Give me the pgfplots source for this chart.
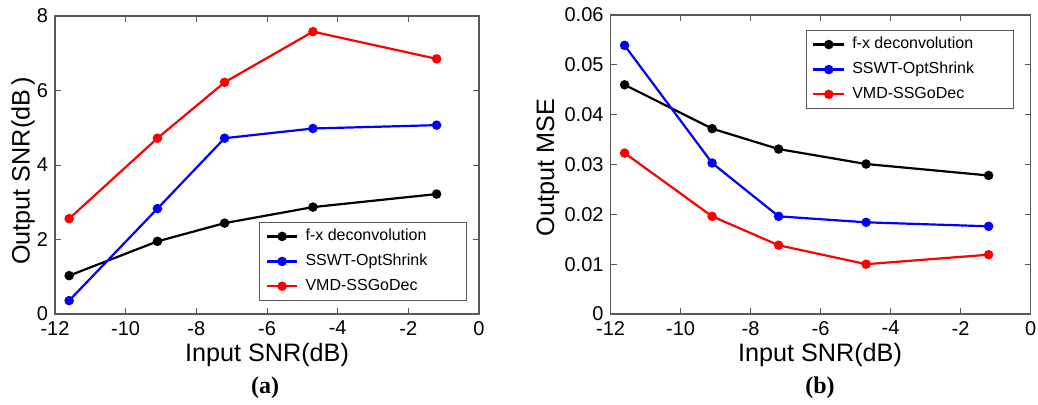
\documentclass[border=0pt]{standalone}
\usepackage{pgfplots}
\pgfplotsset{compat=1.18}
\usepackage{fontspec}
\setmainfont{Liberation Sans}
\newfontfamily\capfont{Liberation Serif}
\begin{document}
\begin{tikzpicture}
\path[use as bounding box] (-27.5pt,-45pt) rectangle (491.5pt,157pt);
\pgfplotsset{
  every axis/.append style={
    scale only axis,
    xmin=-12, xmax=0,
    xtick={-12,-10,-8,-6,-4,-2,0},
    tick align=inside,
    major tick length=3pt,
    axis line style={gray!70!black, line width=0.6pt},
    every tick/.style={gray!70!black, line width=0.5pt},
    tick label style={font=\fontsize{10}{11}\selectfont},
    /pgf/number format/assume math mode=true,
    label style={font=\fontsize{12.6}{13}\selectfont},
    legend style={font=\fontsize{8}{9}\selectfont, draw=gray!70!black, line width=0.6pt,
      row sep=1.2pt, inner xsep=3pt, inner ysep=1.5pt, cells={anchor=west},
      /tikz/every odd column/.append style={column sep=1.5pt}},
    legend image post style={line width=1.1pt},
    legend image code/.code={\draw[mark repeat=2,mark phase=2] plot coordinates {(0cm,0cm) (0.27cm,0cm) (0.54cm,0cm)};},
    every axis plot/.append style={line width=1.1pt, mark=*, mark size=1.8pt},
  }
}
\begin{axis}[
  at={(0pt,0pt)}, anchor=south west,
  width=212pt, height=149pt,
  ymin=0, ymax=8, ytick={0,2,4,6,8},
  xlabel={Input SNR(dB)},
  ylabel={Output SNR(dB\,)},
  xlabel style={at={(axis description cs:0.5,-0.158)}, anchor=base},
  ylabel style={at={(axis description cs:-0.0755,0.48)}, anchor=center},
  legend style={at={(axis description cs:0.972,0.044)}, anchor=south east},
]
\addplot[black] coordinates {(-11.6,1.03) (-9.1,1.95) (-7.2,2.44) (-4.7,2.87) (-1.2,3.22)};
\addplot[blue] coordinates {(-11.6,0.36) (-9.1,2.83) (-7.2,4.72) (-4.7,4.98) (-1.2,5.07)};
\addplot[red] coordinates {(-11.6,2.56) (-9.1,4.72) (-7.2,6.22) (-4.7,7.58) (-1.2,6.85)};
\legend{f-x deconvolution\hspace*{15pt}, SSWT-OptShrink, VMD-SSGoDec}
\end{axis}
\begin{axis}[
  at={(277.8pt,0pt)}, anchor=south west,
  width=210pt, height=149.5pt,
  ymin=0, ymax=0.06, ytick={0,0.01,0.02,0.03,0.04,0.05,0.06},
  yticklabels={0,0.01,0.02,0.03,0.04,0.05,0.06},
  scaled y ticks=false,
  xlabel={Input SNR(dB)},
  ylabel={Output MSE},
  xlabel style={at={(axis description cs:0.4986,-0.158)}, anchor=base},
  ylabel style={at={(axis description cs:-0.149,0.49)}, anchor=center},
  legend style={at={(axis description cs:0.960,0.951)}, anchor=north east},
]
\addplot[black] coordinates {(-11.6,0.0460) (-9.1,0.0372) (-7.2,0.0331) (-4.7,0.0301) (-1.2,0.0278)};
\addplot[blue] coordinates {(-11.6,0.0539) (-9.1,0.0303) (-7.2,0.0196) (-4.7,0.0184) (-1.2,0.0176)};
\addplot[red] coordinates {(-11.6,0.0323) (-9.1,0.0196) (-7.2,0.0138) (-4.7,0.0100) (-1.2,0.0119)};
\legend{f-x deconvolution\hspace*{15pt}, SSWT-OptShrink, VMD-SSGoDec}
\end{axis}
\node[font=\capfont\bfseries\fontsize{12}{12}\selectfont] at (105pt,-37pt) {(a)};
\node[font=\capfont\bfseries\fontsize{12}{12}\selectfont] at (382.5pt,-37pt) {(b)};
\end{tikzpicture}
\end{document}
